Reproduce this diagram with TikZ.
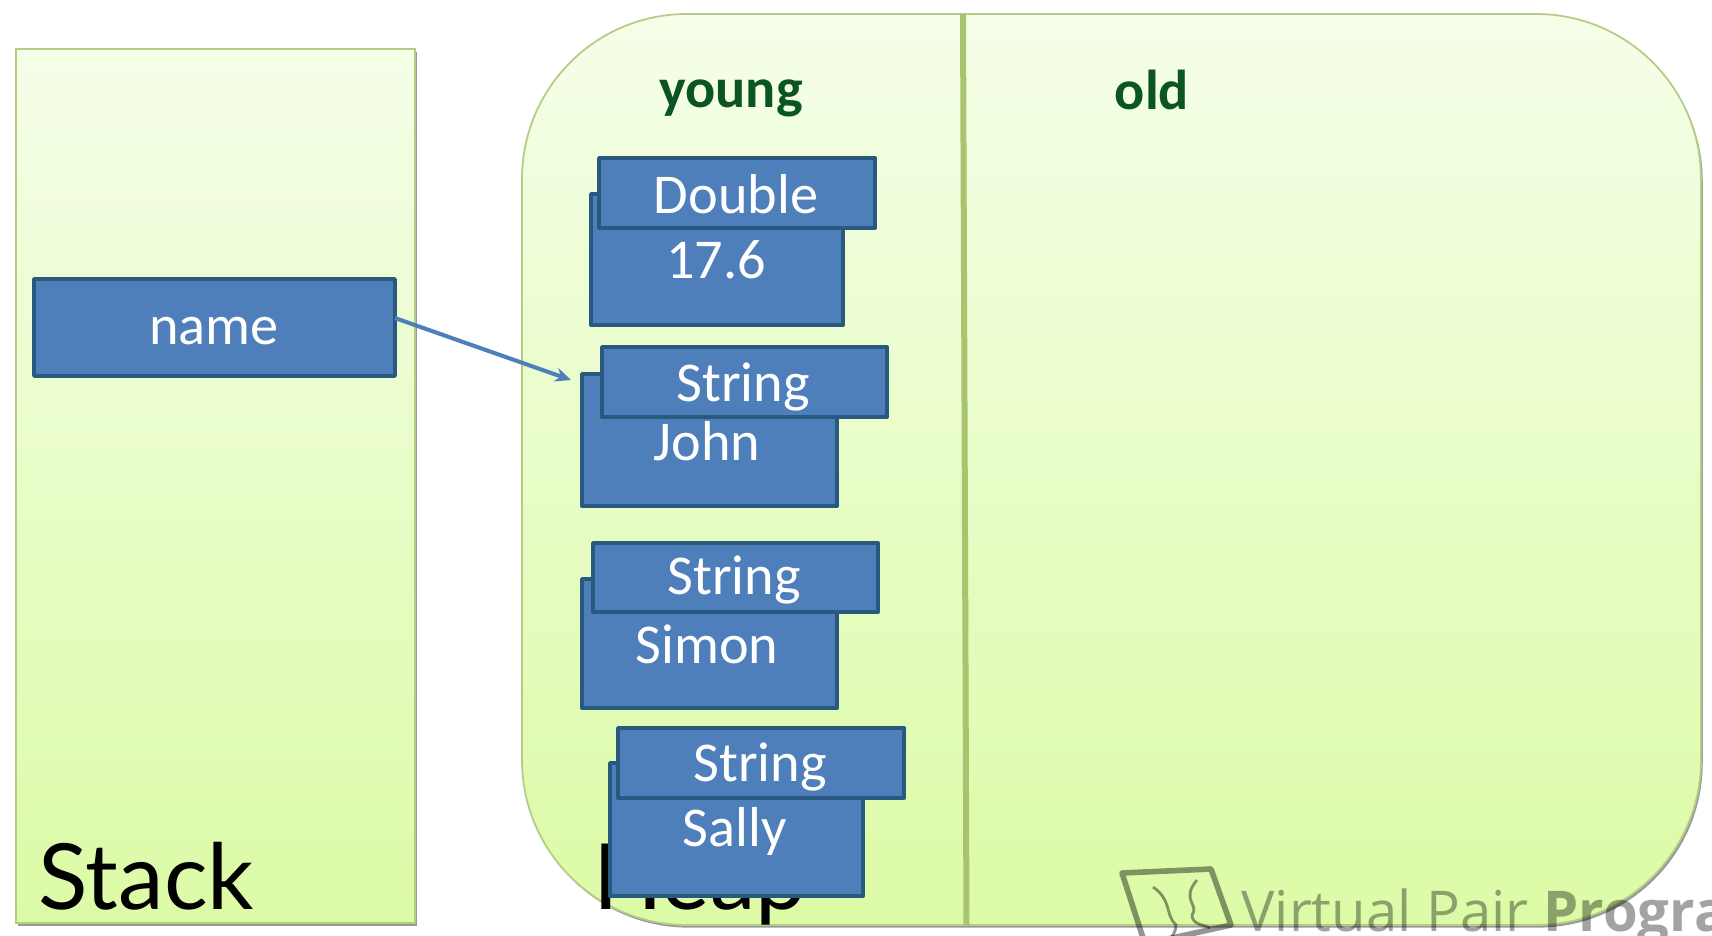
\documentclass[tikz,border=0pt]{standalone}
\usepackage{fontspec}
\setmainfont{Carlito}
\newfontfamily\stackFont{Lato}
\newfontfamily\markFont{Open Sans}
\usetikzlibrary{shadows, arrows.meta}

\begin{document}
\begin{tikzpicture}[x=0.02cm, y=-0.02cm]
    \definecolor{borderColour}{HTML}{B4CC84}
    \definecolor{topColour}{HTML}{F5FEE8}
    \definecolor{bottomColour}{HTML}{DCFBA6}
    \definecolor{boxColour}{HTML}{4F7FBA}
    \definecolor{boxBorder}{HTML}{28597F}
    \definecolor{titleColour}{HTML}{0A5522}
    \definecolor{dividerColour}{HTML}{A9C36E}

    \tikzset{
        memArea/.style={draw=borderColour, line width=1pt, top color=topColour, bottom color=bottomColour,
            drop shadow={shadow xshift=1pt, shadow yshift=-1.5pt, fill=black, opacity=0.4}},
        blockBox/.style={draw=boxBorder, fill=boxColour, line width=2.2pt, line join=round, anchor=north west, inner sep=0pt, outer sep=0pt},
        blockText/.style={text=white, font=\fontsize{32}{32}\selectfont, inner sep=0pt},
        areaTitle/.style={text=titleColour, font=\fontsize{32}{32}\selectfont\bfseries, inner sep=0pt},
        bigTitle/.style={text=black, font=\fontsize{52}{52}\selectfont\stackFont, anchor=base west, inner sep=0pt}
    }

    % Fix the page size
    \useasboundingbox (0,0) rectangle (1712,936);
    \clip (0,0) rectangle (1712,936);
    \fill[white] (0,0) rectangle (1712,936);

    % Draw the two memory areas
    \path[memArea] (16,49) rectangle (415,923);
    \path[memArea, rounded corners=3.3cm] (522,14) rectangle (1701,925);
    \fill[dividerColour] (960,14) -- (966,14) -- (969.5,925) -- (963.5,925) -- cycle;

    % Area titles
    \node[bigTitle] (stackTitle) at (38,909) {Stack};
    \node[bigTitle] (heapTitle) at (593,909) {Heap};
    \node[areaTitle] (youngTitle) at (731,98) {young};
    \node[areaTitle] (oldTitle) at (1152,90) {old};

    % Draw the value boxes, then the type boxes over them
    \foreach \boxName/\x/\y/\w/\h in {
        value176/591/194/252/131, valueJohn/582/374/255/132, valueSimon/582/579/255/129, valueSally/610/763/253/133,
        typeDouble/599/158/276/70, typeJohn/602/347/285/70, typeSimon/593/543/285/69, typeSally/618/728/286/70}
        \node[blockBox, minimum width=\w*0.02cm, minimum height=\h*0.02cm] (\boxName) at (\x,\y) {};

    % Box on the stack
    \node[blockBox, minimum width=7.22cm, minimum height=1.94cm] (nameBox) at (34,279) {};

    % Box labels
    \foreach \labelName/\x/\y/\txt in {
        textDouble/736/194/Double, text176/716/260/17.6,
        textStringA/743/387/String, textJohn/707/441/John,
        textStringB/734/580/String, textSimon/707/644/Simon,
        textStringC/760/767/String, textSally/735/832/Sally}
        \node[blockText] (\labelName) at (\x,\y) {\txt};
    \node[blockText] (textName) at (214,331) {name};

    % Reference from the stack to the heap
    \coordinate (johnRef) at (571,380);
    \draw[-{Stealth[length=9pt, width=8pt]}, draw=boxColour, line width=2.3pt] (nameBox.3) -- (johnRef);

    % Watermark
    \begin{scope}[draw=black, opacity=0.42]
        \draw[line width=3.2pt, line join=round] (1122,873) -- (1211,869) -- (1231,925) -- (1145,944) -- cycle;
        \draw[line width=1.6pt] (1153,887) .. controls (1172,900) and (1165,915) .. (1176,925) .. controls (1176,932) and (1172,936) .. (1170,940);
        \draw[line width=1.6pt] (1197,880) .. controls (1180,900) and (1200,905) .. (1192,915) .. controls (1192,925) and (1205,925) .. (1210,928);
    \end{scope}
    \node[anchor=base west, inner sep=0pt, text=black, text opacity=0.36, font=\fontsize{32}{32}\selectfont\markFont] (markText) at (1241,931)
        {Virtual Pair \textbf{Progra}};
\end{tikzpicture}
\end{document}
